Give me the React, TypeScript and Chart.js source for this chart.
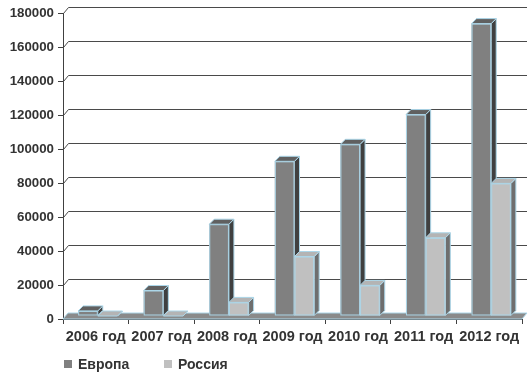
import { useEffect, useRef } from 'react';
import { Chart, registerables } from 'chart.js';

Chart.register(...registerables);

// Categories and series values
const years = ['2006 год', '2007 год', '2008 год', '2009 год', '2010 год', '2011 год', '2012 год'];
const europe = [3000, 15000, 54000, 91000, 101000, 118500, 172000];
const russia = [0, 0, 8000, 35000, 18000, 46000, 78000];
const seriesNames = ['Европа', 'Россия'];
const yMin = 0;
const yMax = 180000;
const yStep = 20000;

const FONT = "'Liberation Sans', Arial, Helvetica, sans-serif";
const TEXT = '#333333';
const AXIS = '#404040';
const EDGE = '#acd6e8';

// oblique projection offsets
const WALL = { dx: 5, dy: -6 };
const BAR_SHIFT = { dx: 2, dy: -3 };
const DEPTH = { dx: 5, dy: -5 };

const faces = [
  { front: '#808080', side: '#404040', top: '#606060' },
  { front: '#c0c0c0', side: '#6e6e6e', top: '#b4b4b4' },
];

function poly(ctx: CanvasRenderingContext2D, pts: number[][]) {
  ctx.beginPath();
  ctx.moveTo(pts[0][0], pts[0][1]);
  for (let i = 1; i < pts.length; i++) ctx.lineTo(pts[i][0], pts[i][1]);
  ctx.closePath();
}

const box3d = {
  id: 'box3d',
  beforeDatasetsDraw(chart: any) {
    const { ctx, chartArea } = chart;
    const y = chart.scales.y;
    ctx.save();
    // back wall grid lines
    ctx.strokeStyle = '#4a4a4a';
    ctx.lineWidth = 1;
    y.ticks.forEach((t: any) => {
      const py = Math.round(y.getPixelForValue(t.value)) + 0.5;
      ctx.beginPath();
      ctx.moveTo(chartArea.left + 0.5, py);
      ctx.lineTo(chartArea.left + WALL.dx + 0.5, py + WALL.dy);
      ctx.lineTo(chartArea.right + WALL.dx, py + WALL.dy);
      ctx.stroke();
    });
    // floor
    const fy = y.getPixelForValue(0);
    poly(ctx, [
      [chartArea.left, fy],
      [chartArea.right, fy],
      [chartArea.right + WALL.dx, fy + WALL.dy],
      [chartArea.left + WALL.dx, fy + WALL.dy],
    ]);
    ctx.fillStyle = '#8a8a8a';
    ctx.fill();
    ctx.strokeStyle = EDGE;
    ctx.stroke();
    ctx.restore();
  },
  afterDatasetsDraw(chart: any) {
    const { ctx } = chart;
    const metas = chart.data.datasets.map((_: any, i: number) => chart.getDatasetMeta(i));
    ctx.save();
    ctx.lineWidth = 1;
    for (let i = 0; i < years.length; i++) {
      metas.forEach((meta: any, d: number) => {
        const el = meta.data[i];
        if (!el) return;
        const w = el.width;
        const l = el.x - w / 2 + BAR_SHIFT.dx;
        const r = l + w;
        const t = el.y + BAR_SHIFT.dy;
        const b = el.base + BAR_SHIFT.dy;
        const f = faces[d];
        // side
        poly(ctx, [[r, t], [r + DEPTH.dx, t + DEPTH.dy], [r + DEPTH.dx, b + DEPTH.dy], [r, b]]);
        ctx.fillStyle = f.side;
        ctx.fill();
        ctx.strokeStyle = EDGE;
        ctx.stroke();
        // front
        if (b - t > 0.5) {
          ctx.fillStyle = f.front;
          ctx.fillRect(l, t, w, b - t);
          ctx.strokeStyle = EDGE;
          ctx.strokeRect(l + 0.5, t + 0.5, w - 1, b - t - 1);
        }
        // top
        poly(ctx, [[l, t], [r, t], [r + DEPTH.dx, t + DEPTH.dy], [l + DEPTH.dx, t + DEPTH.dy]]);
        ctx.fillStyle = f.top;
        ctx.fill();
        ctx.strokeStyle = EDGE;
        ctx.stroke();
      });
    }
    ctx.restore();
  },
  afterDraw(chart: any) {
    const { ctx } = chart;
    const xs = [64, 164];
    ctx.save();
    ctx.font = `bold 14px ${FONT}`;
    ctx.textBaseline = 'middle';
    ctx.textAlign = 'left';
    seriesNames.forEach((name, i) => {
      ctx.fillStyle = faces[i].front;
      ctx.fillRect(xs[i], 360, 8, 8);
      ctx.fillStyle = TEXT;
      ctx.fillText(name, xs[i] + 14, 365);
    });
    ctx.restore();
  },
};

export default function App() {
  const ref = useRef<HTMLCanvasElement | null>(null);

  useEffect(() => {
    if (!ref.current) return;
    const chart = new Chart(ref.current, {
      type: 'bar',
      data: {
        labels: years,
        datasets: [
          { label: seriesNames[0], data: europe, backgroundColor: 'rgba(0,0,0,0)', borderWidth: 0 },
          { label: seriesNames[1], data: russia, backgroundColor: 'rgba(0,0,0,0)', borderWidth: 0 },
        ],
      },
      options: {
        responsive: false,
        animation: false,
        devicePixelRatio: 1,
        layout: { padding: { top: 13, right: 9, left: 0, bottom: 0 } },
        datasets: { bar: { categoryPercentage: 0.6, barPercentage: 1 } },
        plugins: { legend: { display: false }, tooltip: { enabled: false } },
        scales: {
          x: {
            grid: { offset: true, drawOnChartArea: false, tickLength: 5, color: AXIS },
            border: { color: AXIS },
            ticks: {
              font: { family: FONT, size: 14.5, weight: 'bold' },
              color: TEXT,
              padding: 4,
              maxRotation: 0,
              autoSkip: false,
            },
            afterFit: (s: any) => {
              s.height = 56;
            },
          },
          y: {
            min: yMin,
            max: yMax,
            grid: { drawOnChartArea: false, tickLength: 5, color: AXIS },
            border: { color: AXIS },
            ticks: {
              stepSize: yStep,
              font: { family: FONT, size: 13.3, weight: 'bold' },
              color: TEXT,
              padding: 4,
              callback: (v: any) => String(v),
            },
            afterFit: (s: any) => {
              s.width = 63;
            },
          },
        },
      },
      plugins: [box3d],
    } as any);
    return () => chart.destroy();
  }, []);

  return (
    <div style={{ position: 'fixed', left: 0, top: 0, width: 531, height: 375, background: '#ffffff' }}>
      <canvas ref={ref} width={531} height={375} style={{ display: 'block' }} />
    </div>
  );
}
